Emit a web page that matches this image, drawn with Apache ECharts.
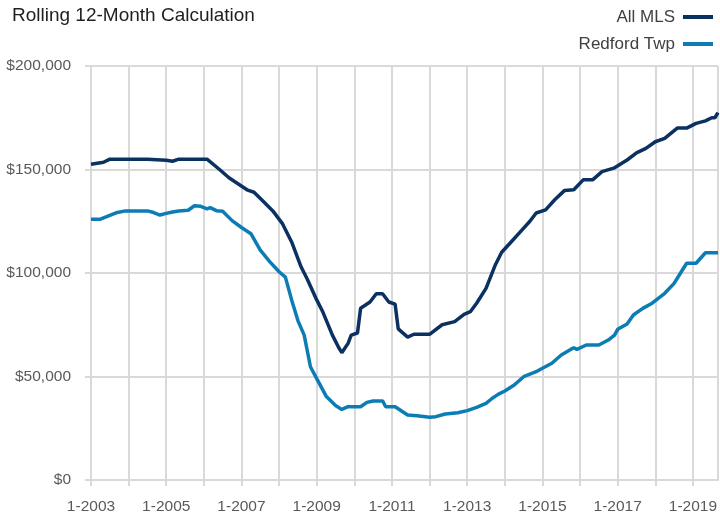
<!DOCTYPE html>
<html>
<head>
<meta charset="utf-8">
<script src="https://cdn.jsdelivr.net/npm/echarts@6/dist/echarts.min.js"></script>
<style>
  html, body { margin: 0; padding: 0; background: #fff; }
  #chart { width: 720px; height: 515px; }
</style>
</head>
<body>
<div id="chart"></div>
<script>
// months counted from 1-2003, values in dollars
const allMlsMonths = [0, 2, 4, 6, 9, 12, 18, 24, 26, 28, 34, 37, 41, 44, 47, 50, 52, 55, 58, 61, 64, 67, 69, 72, 74, 77, 79, 80, 82, 83, 85, 86, 89, 91, 93, 95, 97, 98, 101, 103, 108, 112, 116, 119, 121, 123, 126, 129, 131, 134, 137, 140, 142, 145, 148, 151, 154, 157, 160, 163, 167, 171, 174, 177, 180, 183, 187, 190, 193, 196, 198, 199, 200];
const allMlsValues = [152500, 153000, 153500, 155000, 155000, 155000, 155000, 154500, 154000, 155000, 155000, 155000, 150000, 146000, 143000, 140000, 139000, 134500, 130000, 124000, 115000, 103000, 97000, 87000, 81000, 70000, 64000, 61500, 66000, 70000, 71000, 83000, 86000, 90000, 90000, 86000, 85000, 73000, 69000, 70400, 70400, 75000, 76500, 80000, 81300, 85400, 92600, 104000, 110000, 115000, 120000, 125000, 129000, 130500, 135500, 139800, 140200, 145000, 145000, 149000, 150800, 154600, 158000, 160200, 163400, 165000, 170000, 170000, 172300, 173500, 175000, 175000, 177500];

const redfordMonths = [0, 3, 5, 8, 11, 16, 18, 20, 22, 24, 26, 28, 31, 33, 35, 37, 38, 40, 42, 45, 48, 51, 54, 57, 60, 62, 64, 66, 68, 70, 72, 75, 78, 80, 82, 86, 88, 90, 93, 94, 97, 101, 104, 108, 110, 113, 117, 120, 123, 126, 128, 130, 132, 135, 138, 142, 144, 147, 150, 153, 154, 155, 158, 162, 165, 167, 168, 171, 173, 176, 179, 183, 186, 188, 190, 193, 196, 200];
const redfordValues = [126000, 126000, 127200, 129100, 130000, 130000, 130000, 129200, 128000, 128800, 129500, 130000, 130300, 132500, 132200, 131000, 131600, 130100, 129800, 125300, 122000, 119000, 111000, 105500, 100600, 98000, 87000, 77000, 70000, 54700, 49000, 40500, 36000, 34100, 35400, 35400, 37500, 38200, 38200, 35400, 35400, 31400, 31000, 30300, 30600, 31900, 32500, 33500, 35100, 37000, 39500, 41500, 43000, 45900, 49900, 52300, 54000, 56400, 60400, 63100, 63900, 63100, 65200, 65200, 67600, 70000, 72800, 75400, 79700, 82900, 85400, 90200, 95000, 99900, 104700, 104700, 109800, 109800];

const firstYear = 2003;
const yTicks = [0, 50000, 100000, 150000, 200000];

const font = '"Liberation Sans", Arial, sans-serif';
const gridColor = '#d9d9d9';

function pairs(months, values) {
  return months.map((m, i) => [m, values[i]]);
}

const chart = echarts.init(document.getElementById('chart'));

chart.setOption({
  animation: false,
  title: {
    text: 'Rolling 12-Month Calculation',
    left: 7,
    top: 1,
    textStyle: { fontFamily: font, fontSize: 19, fontWeight: 'normal', color: '#1f1f1f' }
  },
  legend: {
    orient: 'vertical',
    right: 2,
    top: 3,
    align: 'right',
    icon: 'rect',
    itemWidth: 30,
    itemHeight: 4,
    itemGap: 9,
    textStyle: { fontFamily: font, fontSize: 17, lineHeight: 18, color: '#404040', padding: [0, 3, 0, 0] },
    data: ['All MLS', 'Redford Twp']
  },
  grid: { left: 91, right: 2, top: 66, bottom: 35, outerBoundsMode: 'none' },
  xAxis: {
    type: 'value',
    min: 0,
    max: 200,
    interval: 12,
    axisLine: { show: true, lineStyle: { color: gridColor, width: 2 } },
    axisTick: { show: true, length: 6, lineStyle: { color: gridColor, width: 2 } },
    splitLine: { show: true, lineStyle: { color: gridColor, width: 2 } },
    axisLabel: {
      margin: 19,
      fontFamily: font,
      fontSize: 15.5,
      color: '#595959',
      showMaxLabel: false,
      formatter: v => (v % 24 === 0 ? '1-' + (firstYear + v / 12) : '')
    }
  },
  yAxis: {
    type: 'value',
    min: yTicks[0],
    max: yTicks[yTicks.length - 1],
    interval: 50000,
    axisLine: { show: true, lineStyle: { color: gridColor, width: 2 } },
    axisTick: { show: true, length: 6, lineStyle: { color: gridColor, width: 2 } },
    splitLine: { show: true, lineStyle: { color: gridColor, width: 2 } },
    axisLabel: {
      margin: 20,
      fontFamily: font,
      fontSize: 15.5,
      color: '#595959',
      formatter: v => '$' + v.toLocaleString('en-US')
    }
  },
  series: [
    {
      name: 'All MLS',
      type: 'line',
      data: pairs(allMlsMonths, allMlsValues),
      showSymbol: false,
      itemStyle: { color: '#0b3161' },
      lineStyle: { color: '#0b3161', width: 3.5 }
    },
    {
      name: 'Redford Twp',
      type: 'line',
      data: pairs(redfordMonths, redfordValues),
      showSymbol: false,
      itemStyle: { color: '#0b7db4' },
      lineStyle: { color: '#0b7db4', width: 3.5 }
    }
  ]
});
</script>
</body>
</html>
